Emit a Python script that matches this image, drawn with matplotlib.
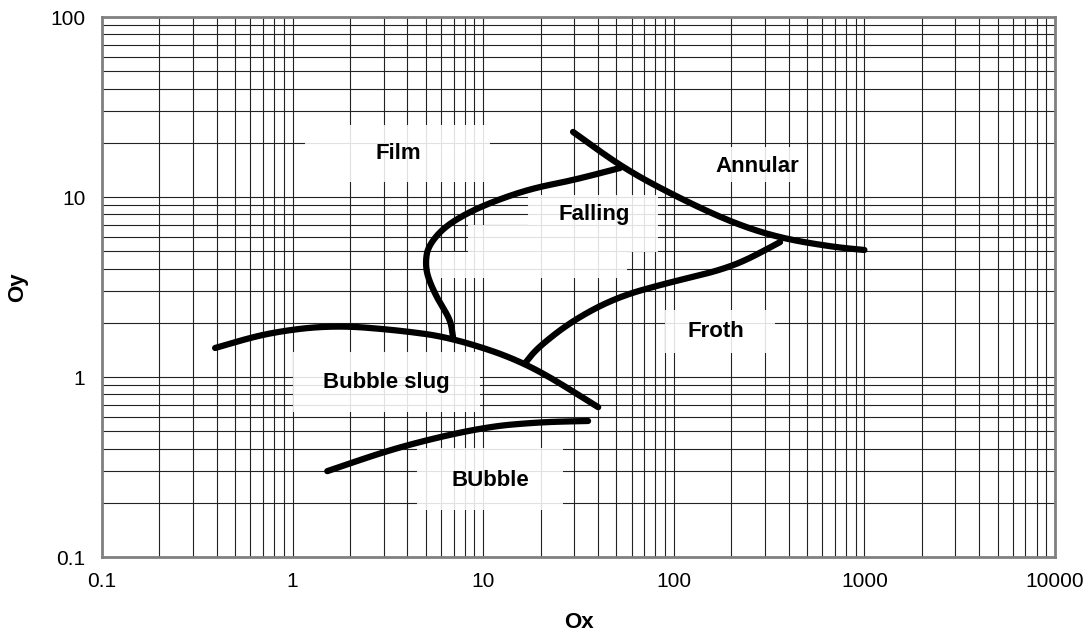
import numpy as np
import matplotlib.pyplot as plt
from matplotlib.patches import Rectangle

# boundary curves (x, y)
bubble_slug_top_x = [0.392, 0.734, 1.61, 3.61, 6.94, 17.0, 40.1]
bubble_slug_top_y = [1.45, 1.76, 1.945, 1.82, 1.65, 1.20, 0.68]

bubble_bottom_x = [1.52, 3.61, 9.98, 19.9, 35.5]
bubble_bottom_y = [0.30, 0.41, 0.527, 0.562, 0.570]

film_x = [6.94, 6.75, 5.79, 5.10, 4.98, 5.13, 6.15, 8.22, 11.8, 18.2, 29.6, 52.2]
film_y = [1.67, 2.07, 2.68, 3.60, 4.35, 5.30, 6.72, 8.15, 9.62, 11.2, 12.4, 14.5]

annular_x = [29.6, 54.2, 104, 205, 361, 684, 1000]
annular_y = [23.0, 14.5, 10.0, 7.17, 5.92, 5.28, 5.08]

froth_x = [16.6, 19.2, 29.6, 50.4, 92.0, 205, 361]
froth_y = [1.196, 1.45, 2.07, 2.78, 3.33, 4.08, 5.62]

region_names = ['Film', 'Annular', 'Falling', 'Froth', 'Bubble slug', 'BUbble']
x_ticks = [0.1, 1, 10, 100, 1000, 10000]
y_ticks = [0.1, 1, 10, 100]


def smooth(xs, ys, rounds=5):
    # chaikin corner cutting in log space, ends kept in place
    p = np.column_stack([np.log10(xs), np.log10(ys)])
    for _ in range(rounds):
        q = 0.75 * p[:-1] + 0.25 * p[1:]
        r = 0.25 * p[:-1] + 0.75 * p[1:]
        mid = np.empty((2 * len(q), 2))
        mid[0::2] = q
        mid[1::2] = r
        p = np.vstack([p[:1], mid[1:-1], p[-1:]])
    return 10 ** p[:, 0], 10 ** p[:, 1]


def main():
    plt.rcParams['font.family'] = ['Liberation Sans', 'DejaVu Sans']
    fig = plt.figure(figsize=(10.9, 6.41), dpi=100)
    ax = fig.add_axes([0.0936, 0.131, 0.8743, 0.8424])
    ax.set_xscale('log')
    ax.set_yscale('log')
    ax.set_xlim(0.1, 10000)
    ax.set_ylim(0.1, 100)

    ax.grid(True, which='both', color='#222222', linewidth=0.8)
    ax.set_axisbelow(True)
    for s in ax.spines.values():
        s.set_color('#808080')
        s.set_linewidth(2)
    ax.tick_params(which='both', length=0, labelsize=15)
    ax.tick_params(axis='x', pad=11)
    ax.tick_params(axis='y', pad=12)
    ax.set_xticks(x_ticks)
    ax.set_xticklabels([f'{t:g}' for t in x_ticks])
    ax.set_yticks(y_ticks)
    ax.set_yticklabels([f'{t:g}' for t in y_ticks])
    ax.set_xlabel('Ox', fontsize=16, fontweight='bold', labelpad=15)
    ax.set_ylabel('Oy', fontsize=16, fontweight='bold', labelpad=16)

    # white label boxes (axes fraction: x0, y0, x1, y1)
    boxes = [(0.213, 0.694, 0.407, 0.800),
             (0.659, 0.694, 0.740, 0.759),
             (0.447, 0.615, 0.583, 0.670),
             (0.384, 0.565, 0.583, 0.615),
             (0.344, 0.517, 0.551, 0.565),
             (0.591, 0.378, 0.706, 0.457),
             (0.200, 0.269, 0.397, 0.380),
             (0.331, 0.087, 0.484, 0.202)]
    for x0, y0, x1, y1 in boxes:
        ax.add_patch(Rectangle((x0, y0), x1 - x0, y1 - y0, transform=ax.transAxes,
                               facecolor='white', edgecolor='none', alpha=0.87, zorder=2))

    pos = [(0.311, 0.748), (0.688, 0.724), (0.516, 0.635),
           (0.644, 0.417), (0.298, 0.324), (0.407, 0.141)]
    for name, (px, py) in zip(region_names, pos):
        ax.text(px, py, name, transform=ax.transAxes, ha='center', va='center',
                fontsize=16, fontweight='bold', zorder=3)

    for xs, ys in [(bubble_slug_top_x, bubble_slug_top_y),
                   (bubble_bottom_x, bubble_bottom_y),
                   (film_x, film_y),
                   (annular_x, annular_y),
                   (froth_x, froth_y)]:
        sx, sy = smooth(xs, ys)
        ax.plot(sx, sy, color='black', linewidth=4.5, solid_capstyle='round', zorder=4)

    fig.savefig('out.png', dpi=100)


if __name__ == "__main__":
    main()
